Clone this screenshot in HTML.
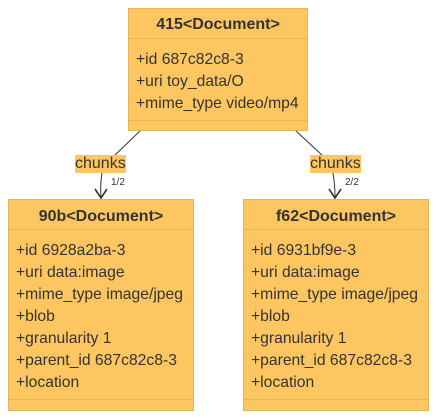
<!DOCTYPE html>
<html><head><style>
body{margin:0;width:436px;height:418px;background:#fff;font-family:"Liberation Sans",sans-serif;color:#333;position:relative;overflow:hidden}
.box{position:absolute;background:#fec661;border:1px solid #e3b45a;box-sizing:border-box}
.h{position:absolute;left:0;right:0;text-align:center;font-weight:bold;font-size:16px}
.d{position:absolute;left:0;right:0;height:0;border-top:1px solid #e3b45a}
.a{position:absolute;left:7px;font-size:15.7px;white-space:nowrap}
.lbl{position:absolute;background:#fec661;font-size:16px;line-height:18px;padding:0}
.s{position:absolute;font-size:10px}
</style></head><body>
<svg width="436" height="418" style="position:absolute;left:0;top:0">
<g stroke="#333" fill="none" stroke-width="1">
<path d="M141 130 L114 156"/><path d="M102 173 Q100 185 101 197"/>
<path d="M295 130 L323 156"/><path d="M333 173 Q335 185 335 197"/>
<path d="M95 189 L101 198 L107 189" stroke-width="1.6"/>
<path d="M329 189 L335 198 L341 189" stroke-width="1.6"/>
</g></svg>
<div class="box" style="left:128px;top:8px;width:180px;height:123px">
<div class="h" style="top:7px">415&lt;Document&gt;</div>
<div class="d" style="top:29px"></div>
<div class="a" style="top:42px">+id 687c82c8-3</div>
<div class="a" style="top:64px">+uri toy_data/O</div>
<div class="a" style="top:86px">+mime_type video/mp4</div>
<div class="d" style="top:111px"></div>
</div>
<div class="lbl" style="left:75px;top:155px">chunks</div>
<div class="lbl" style="left:310px;top:155px">chunks</div>
<div class="s" style="left:111px;top:177px">1/2</div>
<div class="s" style="left:345px;top:177px">2/2</div>
<div class="box" style="left:8px;top:199px;width:186px;height:212px">
<div class="h" style="top:8px">90b&lt;Document&gt;</div>
<div class="d" style="top:29px"></div>
<div class="a" style="top:42px">+id 6928a2ba-3</div>
<div class="a" style="top:64px">+uri data:image</div>
<div class="a" style="top:86px">+mime_type image/jpeg</div>
<div class="a" style="top:108px">+blob</div>
<div class="a" style="top:130px">+granularity 1</div>
<div class="a" style="top:152px">+parent_id 687c82c8-3</div>
<div class="a" style="top:174px">+location</div>
<div class="d" style="top:199px"></div>
</div>
<div class="box" style="left:243px;top:199px;width:186px;height:212px">
<div class="h" style="top:8px">f62&lt;Document&gt;</div>
<div class="d" style="top:29px"></div>
<div class="a" style="top:42px">+id 6931bf9e-3</div>
<div class="a" style="top:64px">+uri data:image</div>
<div class="a" style="top:86px">+mime_type image/jpeg</div>
<div class="a" style="top:108px">+blob</div>
<div class="a" style="top:130px">+granularity 1</div>
<div class="a" style="top:152px">+parent_id 687c82c8-3</div>
<div class="a" style="top:174px">+location</div>
<div class="d" style="top:199px"></div>
</div>
</body></html>
